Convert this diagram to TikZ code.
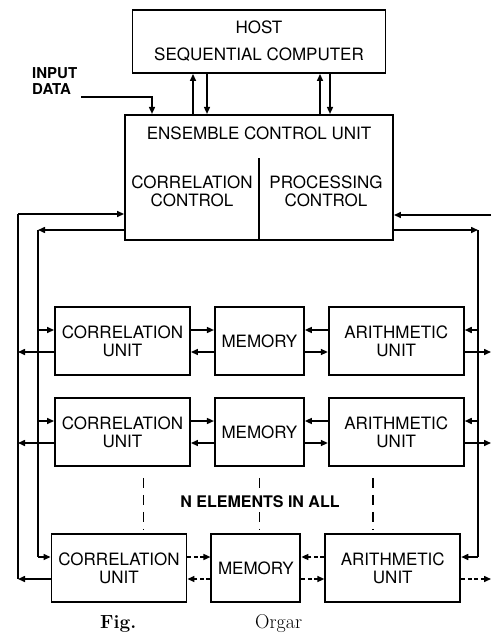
\documentclass[tikz,border=0pt]{standalone}
\usepackage{fontspec}
\setsansfont{TeX Gyre Heros}
\usetikzlibrary{arrows.meta,positioning}

\begin{document}
\begin{tikzpicture}[x=1pt,y=1pt,
      box/.style={draw,line width=1.9pt,inner sep=2pt,align=center,
                  font=\sffamily\fontsize{17}{18}\selectfont},
      unitbox/.style={box,minimum width=135pt,minimum height=68pt},
      membox/.style={box,minimum width=89pt,minimum height=68pt},
      lbl/.style={font=\sffamily\fontsize{17}{18}\selectfont,
                  align=center,inner sep=1pt},
      wire/.style={line width=1.5pt},
      arrow/.style={wire,-{Triangle[length=7pt,width=6pt]}},
      faint/.style={dash pattern=on 4pt off 2.5pt},
      gap/.style={line width=1.8pt,dash pattern=on 10pt off 7pt},
    ]
    \useasboundingbox (0,0) rectangle (493,-634);

    % host and control unit
    \node[box,minimum width=253pt,minimum height=63pt] (host) at (259,-41.5)
      {HOST\\[9pt]SEQUENTIAL COMPUTER};
    \node[box,minimum width=268pt,minimum height=125pt,
          below=40pt of host] (ecu) {};
    \node[lbl] (ecutitle) at (259,-133.5) {ENSEMBLE CONTROL UNIT};
    \node[lbl] (corrctl) at (192,-191) {CORRELATION\\CONTROL};
    \node[lbl] (procctl) at (326,-191) {PROCESSING\\CONTROL};
    \draw[line width=1.9pt] (ecu.south) -- ++(0,83);

    % input
    \node[lbl,font=\sffamily\bfseries\fontsize{15}{15.5}\selectfont,
          align=left,anchor=west] (indata) at (31,-81) {INPUT\\DATA};
    \coordinate (inpt) at (81,-97);
    \draw[arrow] (inpt) -| ([xshift=-107pt]ecu.north);

    % host links
    \draw[arrow] ([xshift=-66pt]ecu.north) -- ([xshift=-66pt]host.south);
    \draw[arrow] ([xshift=-52pt]host.south) -- ([xshift=-52pt]ecu.north);
    \draw[arrow] ([xshift=61pt]ecu.north) -- ([xshift=61pt]host.south);
    \draw[arrow] ([xshift=71pt]host.south) -- ([xshift=71pt]ecu.north);

    % processing elements
    \node[unitbox] (corr1) at (122.5,-341) {CORRELATION\\UNIT};
    \node[membox,right=23pt of corr1] (mem1) {MEMORY};
    \node[unitbox,right=23pt of mem1] (arith1) {ARITHMETIC\\UNIT};

    \node[unitbox] (corr2) at (122.5,-432) {CORRELATION\\UNIT};
    \node[membox,right=23pt of corr2] (mem2) {MEMORY};
    \node[unitbox,right=23pt of mem2] (arith2) {ARITHMETIC\\UNIT};

    \node[unitbox] (corr3) at (119,-568) {CORRELATION\\UNIT};
    \node[membox,right=23pt of corr3] (mem3) {MEMORY};
    \node[unitbox,right=23pt of mem3] (arith3) {ARITHMETIC\\UNIT};

    % buses
    \coordinate (lbo) at (18,-214);
    \coordinate (lbi) at (38,-230);
    \coordinate (rbi) at (478,-230);
    \coordinate (rbo) at (491,-215);
    \draw[arrow] (lbo) -- (ecu.west |- lbo);
    \draw[arrow] (ecu.west |- lbi) -- (lbi);
    \draw[arrow] (ecu.east |- rbi) -- (rbi);
    \draw[arrow] (rbo) -- (ecu.east |- rbo);
    \draw[wire] (lbo) -- ([yshift=-11pt]corr3.west -| lbo);
    \draw[wire] (lbi) -- ([yshift=11pt]corr3.west -| lbi);
    \draw[wire] (rbi) -- ([yshift=11pt]arith3.east -| rbi);

    % first element
    \draw[arrow] ([yshift=11pt]corr1.west -| lbi) -- ([yshift=11pt]corr1.west);
    \draw[arrow] ([yshift=-11pt]corr1.west) -- ([yshift=-11pt]corr1.west -| lbo);
    \draw[arrow] ([yshift=11pt]corr1.east) -- ([yshift=11pt]mem1.west);
    \draw[arrow] ([yshift=-11pt]mem1.west) -- ([yshift=-11pt]corr1.east);
    \draw[arrow] ([yshift=11pt]arith1.west) -- ([yshift=11pt]mem1.east);
    \draw[arrow] ([yshift=-11pt]mem1.east) -- ([yshift=-11pt]arith1.west);
    \draw[arrow] ([yshift=11pt]arith1.east -| rbi) -- ([yshift=11pt]arith1.east);
    \draw[arrow] ([yshift=-11pt]arith1.east) -- ([yshift=-11pt]arith1.east -| rbo);

    % second element
    \draw[arrow] ([yshift=11pt]corr2.west -| lbi) -- ([yshift=11pt]corr2.west);
    \draw[arrow] ([yshift=-11pt]corr2.west) -- ([yshift=-11pt]corr2.west -| lbo);
    \draw[arrow] ([yshift=11pt]corr2.east) -- ([yshift=11pt]mem2.west);
    \draw[arrow] ([yshift=-11pt]mem2.west) -- ([yshift=-11pt]corr2.east);
    \draw[arrow] ([yshift=11pt]arith2.west) -- ([yshift=11pt]mem2.east);
    \draw[arrow] ([yshift=-11pt]mem2.east) -- ([yshift=-11pt]arith2.west);
    \draw[arrow] ([yshift=11pt]arith2.east -| rbi) -- ([yshift=11pt]arith2.east);
    \draw[arrow] ([yshift=-11pt]arith2.east) -- ([yshift=-11pt]arith2.east -| rbo);

    % last element
    \draw[arrow] ([yshift=11pt]corr3.west -| lbi) -- ([yshift=11pt]corr3.west);
    \draw[arrow] ([yshift=-11pt]corr3.west) -- ([yshift=-11pt]corr3.west -| lbo);
    \draw[arrow,faint] ([yshift=11pt]corr3.east) -- ([yshift=11pt]mem3.west);
    \draw[arrow,faint] ([yshift=-11pt]mem3.west) -- ([yshift=-11pt]corr3.east);
    \draw[arrow,faint] ([yshift=11pt]arith3.west) -- ([yshift=11pt]mem3.east);
    \draw[arrow,faint] ([yshift=-11pt]mem3.east) -- ([yshift=-11pt]arith3.west);
    \draw[arrow] ([yshift=11pt]arith3.east -| rbi) -- ([yshift=11pt]arith3.east);
    \draw[arrow,faint] ([yshift=-11pt]arith3.east) -- ([yshift=-11pt]arith3.east -| rbo);

    % gap between elements
    \draw[gap,shorten <=11pt,shorten >=4pt]
      ([xshift=21pt]corr2.south) -- ([xshift=21pt]corr2.south |- corr3.north);
    \draw[gap,shorten <=11pt,shorten >=4pt]
      (mem2.south) -- (mem2.south |- mem3.north);
    \draw[gap,shorten <=11pt,shorten >=4pt]
      ([xshift=-23pt]arith2.south) -- ([xshift=-23pt]arith2.south |- arith3.north);
    \node[lbl,font=\sffamily\bfseries\fontsize{16}{18}\selectfont,
          fill=white,inner sep=4pt] (nelem) at (260,-502) {N ELEMENTS IN ALL};

    % caption
    \node[font=\bfseries\fontsize{19}{20}\selectfont,anchor=base west,inner sep=0pt]
      (figlbl) at (100,-628) {Fig.};
    \node[font=\fontsize{20}{20}\selectfont,anchor=base west,inner sep=0pt]
      (figtxt) at (255,-628) {Orgar};
\end{tikzpicture}
\end{document}
